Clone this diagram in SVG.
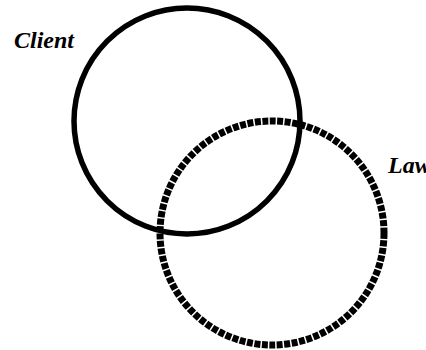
<svg xmlns="http://www.w3.org/2000/svg" width="426" height="350" viewBox="0 0 426 350">
<style>
.lbl{font-family:"Liberation Serif","Times New Roman",serif;font-weight:bold;font-style:italic;font-size:24px;fill:#000}
.c{fill:none;stroke:#000}
</style>
<rect width="426" height="350" fill="#fff"/>
<g id="client">
<circle class="c" cx="187" cy="121" r="113" stroke-width="5.5"/>
<text class="lbl" x="14" y="48">Client</text>
</g>
<g id="law">
<circle class="c" cx="272" cy="233" r="112" stroke-width="7" stroke-dasharray="6 1.5"/>
<text class="lbl" x="388" y="173">Law</text>
</g>
<g id="connectors"></g>
</svg>
